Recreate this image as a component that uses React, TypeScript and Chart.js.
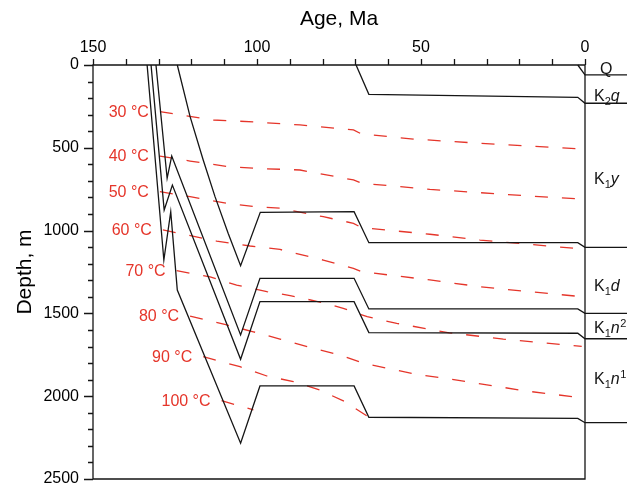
import React, { useEffect, useRef } from 'react';
import { Chart, registerables } from 'chart.js';
Chart.register(...registerables);

// ---- Burial-history curves (age in Ma, depth in m); negative age extends into the stratigraphic column
const qAge = [2.2, 0, -13];
const qDepth = [0, 60, 60];
const k2qAge = [69.8, 65.9, 2.2, 0, -13];
const k2qDepth = [0, 177, 195, 231, 231];
const k1yAge = [124.3, 120.4, 116.4, 112.8, 108.8, 105.0, 99.0, 70.4, 65.9, 2.2, 0, -13];
const k1yDepth = [0, 312, 574, 795, 1016, 1212, 890, 886, 1073, 1073, 1101, 1101];
const k1dAge = [130.8, 127.4, 126.0, 105.0, 99.1, 70.4, 65.9, 2.2, 0, -13];
const k1dDepth = [0, 684, 550, 1630, 1288, 1288, 1473, 1473, 1500, 1500];
const k1n2Age = [132.3, 128.3, 125.8, 105.0, 99.1, 70.4, 65.9, 2.2, 0, -13];
const k1n2Depth = [0, 876, 725, 1777, 1429, 1429, 1616, 1620, 1653, 1653];
const k1n1Age = [133.5, 128.4, 126.3, 124.3, 105.0, 99.1, 70.4, 65.9, 2.2, 0, -13];
const k1n1Depth = [0, 1178, 886, 1359, 2284, 1938, 1938, 2127, 2134, 2160, 2160];

// ---- Isotherms
const iso30Age = [129.6, 113.3, 100.6, 86.9, 70.6, 68.1, 52.3, 32.0, 1.0];
const iso30Depth = [282, 332, 344, 362, 392, 417, 447, 473, 507];
const iso40Age = [129.6, 120.4, 108.8, 100.6, 86.9, 70.6, 68.1, 47.3, 16.8, 1.0];
const iso40Depth = [550, 580, 614, 624, 634, 694, 714, 751, 791, 809];
const iso50Age = [129.6, 120.4, 109.2, 100.6, 93.0, 79.8, 70.6, 68.1, 47.3, 32.0, 16.8, 1.0];
const iso50Depth = [765, 795, 835, 856, 865, 916, 956, 982, 1022, 1057, 1083, 1111];
const iso60Age = [128.7, 112.3, 102.1, 93.0, 79.8, 70.6, 68.1, 47.3, 32.0, 16.8, 1.0];
const iso60Depth = [996, 1063, 1093, 1114, 1178, 1228, 1248, 1298, 1339, 1369, 1399];
const iso70Age = [124.5, 114.3, 106.2, 97.0, 89.9, 81.8, 73.7, 66.4, 57.4, 41.4, 24.9, 1.0];
const iso70Depth = [1242, 1280, 1329, 1369, 1392, 1427, 1469, 1520, 1560, 1617, 1655, 1699];
const iso80Age = [120.4, 109.2, 101.1, 93.0, 82.8, 74.7, 67.6, 50.3, 42.2, 17.8, 3.6];
const iso80Depth = [1516, 1570, 1611, 1655, 1711, 1751, 1801, 1872, 1893, 1969, 2003];
const iso90Age = [116.4, 105.2, 97.0, 88.9, 80.8, 73.2, 66.1];
const iso90Depth = [1761, 1822, 1878, 1912, 1963, 2033, 2124];
const iso100Age = [110.8, 101.1];
const iso100Depth = [2027, 2083];

const isoLabels = ['30 °C', '40 °C', '50 °C', '60 °C', '70 °C', '80 °C', '90 °C', '100 °C'];

// ---- Stratigraphic column labels: [main, subscript, italic letter, superscript]
const strataMain = ['Q', 'K', 'K', 'K', 'K', 'K'];
const strataSub = ['', '2', '1', '1', '1', '1'];
const strataLetter = ['', 'q', 'y', 'd', 'n', 'n'];
const strataSup = ['', '', '', '', '2', '1'];
const strataLabelDepth = [20, 181, 684, 1328, 1580, 1892];

const AGE_MIN = 0;
const AGE_MAX = 150;
const DEPTH_MIN = 0;
const DEPTH_MAX = 2500;

const FONT = '"Liberation Sans", Arial, Helvetica, sans-serif';
const RED = '#e5352a';
const BLACK = '#151515';

const toPts = (ages: number[], depths: number[]) => ages.map((a, i) => ({ x: a, y: depths[i] }));

export default function App() {
  const ref = useRef<HTMLCanvasElement>(null);

  useEffect(() => {
    if (!ref.current) return;
    const burial = [
      [qAge, qDepth], [k2qAge, k2qDepth], [k1yAge, k1yDepth], [k1dAge, k1dDepth],
      [k1n2Age, k1n2Depth], [k1n1Age, k1n1Depth],
    ];
    const isos = [
      [iso30Age, iso30Depth], [iso40Age, iso40Depth], [iso50Age, iso50Depth], [iso60Age, iso60Depth],
      [iso70Age, iso70Depth], [iso80Age, iso80Depth], [iso90Age, iso90Depth], [iso100Age, iso100Depth],
    ];
    const datasets: any[] = [];
    burial.forEach(([a, d]) => datasets.push({
      data: toPts(a, d), borderColor: BLACK, borderWidth: 1.3, pointRadius: 0, tension: 0, clip: false, fill: false,
    }));
    isos.forEach(([a, d]) => datasets.push({
      data: toPts(a, d), borderColor: RED, borderWidth: 1.3, borderDash: [13, 14], pointRadius: 0, tension: 0, fill: false,
    }));

    const decor = {
      id: 'decor',
      afterDraw(chart: any) {
        const { ctx, chartArea: ca } = chart;
        const xs = chart.scales.x;
        const ys = chart.scales.y;
        ctx.save();
        ctx.strokeStyle = BLACK;
        ctx.lineWidth = 1.3;
        ctx.beginPath();
        ctx.rect(ca.left, ca.top, ca.right - ca.left, ca.bottom - ca.top);
        ctx.stroke();
        // x ticks (outward, top)
        ctx.beginPath();
        xs.ticks.forEach((t: any) => {
          const px = Math.round(xs.getPixelForValue(t.value)) + 0.5;
          ctx.moveTo(px, ca.top);
          ctx.lineTo(px, ca.top - 6);
        });
        // y ticks (outward, left)
        ys.ticks.forEach((t: any) => {
          const py = Math.round(ys.getPixelForValue(t.value)) + 0.5;
          const len = t.value % 500 === 0 ? 9 : 5;
          ctx.moveTo(ca.left, py);
          ctx.lineTo(ca.left - len, py);
        });
        ctx.stroke();

        // isotherm labels, anchored to the start of each isotherm
        ctx.fillStyle = RED;
        ctx.font = `16px ${FONT}`;
        ctx.textAlign = 'right';
        ctx.textBaseline = 'middle';
        isos.forEach(([a, d], i) => {
          const px = xs.getPixelForValue(a[0]);
          const py = ys.getPixelForValue(d[0]);
          ctx.fillText(isoLabels[i], px - 11, py + 1);
        });

        // stratigraphic labels
        ctx.fillStyle = BLACK;
        ctx.textAlign = 'left';
        ctx.textBaseline = 'alphabetic';
        strataMain.forEach((m, i) => {
          const py = ys.getPixelForValue(strataLabelDepth[i]) + 6;
          let px = m === 'Q' ? ca.right + 15 : ca.right + 9;
          ctx.font = `16px ${FONT}`;
          ctx.fillText(m, px, py);
          px += ctx.measureText(m).width;
          if (strataSub[i]) {
            ctx.font = `11px ${FONT}`;
            ctx.fillText(strataSub[i], px, py + 4);
            px += ctx.measureText(strataSub[i]).width;
          }
          if (strataLetter[i]) {
            ctx.font = `italic 16px ${FONT}`;
            ctx.fillText(strataLetter[i], px, py);
            px += ctx.measureText(strataLetter[i]).width + 0.5;
          }
          if (strataSup[i]) {
            ctx.font = `11px ${FONT}`;
            ctx.fillText(strataSup[i], px, py - 6);
          }
        });
        ctx.restore();
      },
    };

    const chart = new Chart(ref.current, {
      type: 'line',
      data: { datasets },
      plugins: [decor],
      options: {
        animation: false,
        responsive: false,
        devicePixelRatio: 1,
        layout: { padding: { left: 0, top: 0, right: 42, bottom: 12 } },
        plugins: { legend: { display: false }, tooltip: { enabled: false } },
        elements: { line: { borderCapStyle: 'butt' } },
        scales: {
          x: {
            type: 'linear', position: 'top', reverse: true, min: AGE_MIN, max: AGE_MAX,
            grid: { display: false, drawTicks: false },
            border: { display: false },
            ticks: {
              stepSize: 10, autoSkip: false, maxRotation: 0, padding: 8, color: '#000',
              font: { size: 16, family: FONT },
              callback: (v: any) => (Number(v) % 50 === 0 ? String(v) : ''),
            },
            title: { display: true, text: 'Age, Ma', color: '#000', font: { size: 21, family: FONT }, padding: { top: 7, bottom: 0 } },
            afterFit: (s: any) => { s.height = 65; s.paddingLeft = 0; s.paddingRight = 0; },
          },
          y: {
            type: 'linear', position: 'left', reverse: true, min: DEPTH_MIN, max: DEPTH_MAX,
            grid: { display: false, drawTicks: false },
            border: { display: false },
            ticks: {
              stepSize: 100, autoSkip: false, padding: 14, color: '#000',
              font: { size: 16, family: FONT },
              callback: (v: any) => (Number(v) % 500 === 0 ? String(v) : ''),
            },
            title: { display: true, text: 'Depth, m', color: '#000', font: { size: 21, family: FONT }, padding: { top: 13, bottom: 0 } },
            afterFit: (s: any) => { s.width = 93; s.paddingTop = 0; s.paddingBottom = 0; },
          },
        },
      } as any,
    });
    return () => chart.destroy();
  }, []);

  return (
    <div style={{ position: 'fixed', left: 0, top: 0, width: 627, height: 491, background: '#fff' }}>
      <canvas ref={ref} width={627} height={491} style={{ width: '627px', height: '491px', display: 'block' }} />
    </div>
  );
}
